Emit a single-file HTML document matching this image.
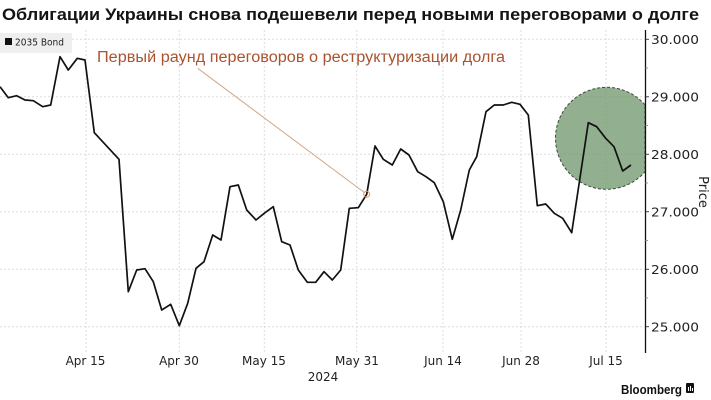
<!DOCTYPE html>
<html><head><meta charset="utf-8"><style>
html,body{margin:0;padding:0;background:#fff;}
svg{display:block;}
</style></head><body>
<svg width="711" height="400" viewBox="0 0 711 400" xmlns="http://www.w3.org/2000/svg">
<rect width="711" height="400" fill="#fff"/>
<text x="2" y="20" font-family="Liberation Sans, DejaVu Sans, sans-serif" font-weight="bold" font-size="17" fill="#141414" textLength="697" lengthAdjust="spacingAndGlyphs">Облигации Украины снова подешевели перед новыми переговорами о долге</text>
<g stroke="#dcdcdc" stroke-width="1" stroke-dasharray="2,2" fill="none">
<line x1="0" y1="39.3" x2="645" y2="39.3"/>
<line x1="0" y1="96.8" x2="645" y2="96.8"/>
<line x1="0" y1="154.3" x2="645" y2="154.3"/>
<line x1="0" y1="211.7" x2="645" y2="211.7"/>
<line x1="0" y1="269.3" x2="645" y2="269.3"/>
<line x1="0" y1="326.7" x2="645" y2="326.7"/>
<line x1="86" y1="30" x2="86" y2="352"/>
<line x1="179.3" y1="30" x2="179.3" y2="352"/>
<line x1="264.3" y1="30" x2="264.3" y2="352"/>
<line x1="356.7" y1="30" x2="356.7" y2="352"/>
<line x1="443" y1="30" x2="443" y2="352"/>
<line x1="521" y1="30" x2="521" y2="352"/>
<line x1="606" y1="30" x2="606" y2="352"/>
</g>
<path d="M645,104.85 A51,51 0 1,0 645,171.75 Z" fill="rgb(110,150,105)" fill-opacity="0.75" stroke="#3a4a38" stroke-width="1" stroke-dasharray="3,2"/>
<rect x="0" y="33" width="72" height="20" fill="#efefef"/>
<rect x="5" y="38" width="7" height="7" fill="#111"/>
<text x="15" y="45.5" font-family="DejaVu Sans, sans-serif" font-size="10" fill="#222" textLength="49" lengthAdjust="spacingAndGlyphs">2035 Bond</text>
<text x="97" y="62" font-family="Liberation Sans, DejaVu Sans, sans-serif" font-size="15.5" fill="#a9532f" textLength="408" lengthAdjust="spacingAndGlyphs">Первый раунд переговоров о реструктуризации долга</text>
<line x1="197.7" y1="68.3" x2="364.5" y2="192.6" stroke="#d4a484" stroke-width="1"/>
<polyline fill="none" stroke="#111" stroke-width="1.7" stroke-linejoin="round" points="0,86.7 8.3,97.7 16.7,95.7 25,100 33.3,100.7 42.7,106.7 50.7,105 60,56.7 68.3,70 77.3,58.3 85,60 94.3,132.7 119,159.3 128.3,291.7 136.7,270 145,268.7 153.3,281.7 161.7,310 170.7,304.3 179.3,325.7 187.7,303.3 196,268.3 204,261.7 212.7,235 221,240 230,186.7 238.3,185 246.7,210 256,220 265,212.7 273.3,206.7 281.7,241.7 290,245 298.3,270 307.3,282.3 315.7,282.3 324,271.7 332.3,280 340.7,270 349.3,208.3 358.3,207.7 366.7,194.3 375,146 383.3,159.3 392.3,165 400.7,149 409,155 417.7,171.7 426,176.7 434.3,182.7 443.3,201.7 452.3,239.3 460.7,210 469.3,170 476.7,156.7 486,111.7 494.3,105 503.3,105 511.7,102.3 520,104.3 528.3,115 537.3,205.7 545.7,204 554.3,213.3 562.7,218.3 571.7,232.7 588.3,122.7 596.7,126.7 605.7,138.3 614,146.7 622.7,171 631,165"/>
<circle cx="366.7" cy="194.3" r="3" fill="none" stroke="#e0955e" stroke-width="1"/>
<line x1="645.5" y1="30" x2="645.5" y2="353" stroke="#111" stroke-width="1.3"/>
<g stroke="#444" stroke-width="1">
<line x1="645.5" y1="39.3" x2="649" y2="39.3"/>
<line x1="645.5" y1="96.8" x2="649" y2="96.8"/>
<line x1="645.5" y1="154.3" x2="649" y2="154.3"/>
<line x1="645.5" y1="211.7" x2="649" y2="211.7"/>
<line x1="645.5" y1="269.3" x2="649" y2="269.3"/>
<line x1="645.5" y1="326.7" x2="649" y2="326.7"/>
</g>
<g stroke="#999" stroke-width="1">
<line x1="645.5" y1="68" x2="648" y2="68"/>
<line x1="645.5" y1="125.5" x2="648" y2="125.5"/>
<line x1="645.5" y1="183" x2="648" y2="183"/>
<line x1="645.5" y1="240.5" x2="648" y2="240.5"/>
<line x1="645.5" y1="298" x2="648" y2="298"/>
</g>
<g font-family="DejaVu Sans, sans-serif" font-size="12.5" fill="#222">
<text x="651" y="44" textLength="48" lengthAdjust="spacingAndGlyphs">30.000</text>
<text x="651" y="101.5" textLength="48" lengthAdjust="spacingAndGlyphs">29.000</text>
<text x="651" y="159" textLength="48" lengthAdjust="spacingAndGlyphs">28.000</text>
<text x="651" y="216.4" textLength="48" lengthAdjust="spacingAndGlyphs">27.000</text>
<text x="651" y="274" textLength="48" lengthAdjust="spacingAndGlyphs">26.000</text>
<text x="651" y="331.4" textLength="48" lengthAdjust="spacingAndGlyphs">25.000</text>
</g>
<text transform="translate(699,192) rotate(90)" text-anchor="middle" font-family="DejaVu Sans, sans-serif" font-size="13" fill="#222">Price</text>
<g font-family="DejaVu Sans, sans-serif" font-size="12" fill="#222" text-anchor="middle">
<text x="85.5" y="365">Apr 15</text>
<text x="179" y="365">Apr 30</text>
<text x="264" y="365">May 15</text>
<text x="357" y="365">May 31</text>
<text x="443" y="365">Jun 14</text>
<text x="521" y="365">Jun 28</text>
<text x="606" y="365">Jul 15</text>
<text x="323" y="381">2024</text>
</g>
<text x="621" y="394" font-family="Liberation Sans, DejaVu Sans, sans-serif" font-weight="bold" font-size="13" fill="#111" textLength="61" lengthAdjust="spacingAndGlyphs">Bloomberg</text>
<rect x="686" y="383" width="8" height="10" rx="1" fill="#111"/>
<rect x="688" y="387" width="1" height="4" fill="#fff"/>
<rect x="690" y="386" width="1" height="5" fill="#fff"/>
<rect x="692" y="388" width="1" height="3" fill="#fff"/>
</svg>
</body></html>
